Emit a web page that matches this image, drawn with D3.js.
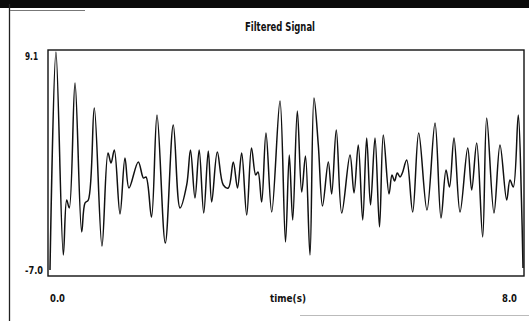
<!DOCTYPE html>
<html><head><meta charset="utf-8">
<script src="https://cdn.jsdelivr.net/npm/d3@7"></script>
<style>
html,body{margin:0;padding:0;background:#fff;overflow:hidden}
text{font-family:"Liberation Sans Narrow","DejaVu Sans Condensed","Liberation Sans",sans-serif;font-weight:bold;fill:#111}
</style></head>
<body><svg id="c" width="529" height="321"></svg>
<script>
const title = "Filtered Signal";
const xLabel = "time(s)";
const xTickLabels = ["0.0", "8.0"];
const xTickValues = [0, 8];
const yTickLabels = ["9.1", "-7.0"];
const yTickValues = [9.1, -7.0];
const times = [0,0.101,0.225,0.282,0.326,0.423,0.536,0.592,0.648,0.749,0.879,0.981,1.032,1.088,1.184,1.268,1.336,1.493,1.581,1.624,1.717,1.810,1.950,2.085,2.199,2.312,2.376,2.452,2.523,2.600,2.677,2.735,2.830,2.931,3.016,3.100,3.171,3.242,3.327,3.408,3.479,3.518,3.580,3.653,3.750,3.890,3.983,4.047,4.105,4.183,4.257,4.321,4.397,4.465,4.538,4.609,4.707,4.764,4.842,4.934,5.074,5.142,5.214,5.289,5.356,5.421,5.497,5.573,5.637,5.734,5.784,5.827,5.874,5.920,5.959,6.033,6.134,6.236,6.376,6.512,6.613,6.698,6.757,6.833,6.935,7.065,7.132,7.217,7.318,7.386,7.509,7.611,7.724,7.780,7.836,7.920,7.974,8.0];
const signal = [-7.0,9.1,-5.89,-1.83,-2.42,6.81,-4.19,-2.05,-1.83,4.96,-5.23,1.64,0.90,1.86,-2.86,1.27,-0.94,0.98,-0.21,-0.13,-3.09,4.45,-5.01,3.71,-2.42,-0.72,1.86,-1.68,1.86,-2.79,1.79,-1.98,1.71,-0.72,-0.94,0.98,-0.94,1.64,-2.94,2.01,0.02,0.24,-1.98,3.12,-2.72,5.48,-4.93,1.49,-3.31,4.74,-1.24,1.42,-5.89,5.70,2.23,-2.27,0.98,-1.39,3.34,-2.79,1.49,-1.31,2.23,-3.31,2.75,-2.20,2.75,-3.82,2.97,-1.39,0.02,-0.43,0.16,-0.13,0.16,1.12,-2.72,3.12,-2.57,3.86,-3.16,0.39,-0.87,2.75,-2.72,2.01,-1.09,2.38,-4.56,4.23,-2.79,2.23,-1.83,-0.35,-0.87,4.45,-1.83,-6.85];

const svg = d3.select("#c");
const x = d3.scaleLinear().domain([0, 8]).range([50, 523]);
const y = d3.scaleLinear().domain([-7.0, 9.1]).range([270, 52]);

// window chrome remnants
svg.append("rect").attr("x",0).attr("y",0).attr("width",529).attr("height",8).attr("fill","#0a0a0a");
svg.append("line").attr("x1",9.5).attr("x2",9.5).attr("y1",4).attr("y2",321).attr("stroke","#222").attr("stroke-width",1.3);
svg.append("line").attr("x1",10).attr("x2",85).attr("y1",10.5).attr("y2",10.5).attr("stroke","#777").attr("stroke-width",1);
svg.append("line").attr("x1",300).attr("x2",529).attr("y1",315.5).attr("y2",315.5).attr("stroke","#bbb").attr("stroke-width",1);

function fit(sel, w){ sel.attr("textLength", w).attr("lengthAdjust","spacingAndGlyphs"); return sel; }

// title
fit(svg.append("text").attr("x",245).attr("y",31).attr("font-size",12.5).text(title), 70);

// frame
svg.append("rect").attr("x",48).attr("y",50).attr("width",476).attr("height",226)
  .attr("fill","none").attr("stroke","#111").attr("stroke-width",1.4);

// y tick labels
svg.selectAll(".yt").data(yTickValues).enter().append("text")
  .attr("x",25).attr("y",d=>y(d)+4 + (d>0?4:0)).attr("font-size",11).attr("text-anchor","start")
  .attr("textLength",(d,i)=> i===0 ? 13 : 18).attr("lengthAdjust","spacingAndGlyphs")
  .text((d,i)=>yTickLabels[i]);

// x tick labels
svg.selectAll(".xt").data(xTickValues).enter().append("text")
  .attr("x",d=> d===0 ? x(d) : x(d)-21).attr("y",302).attr("font-size",11)
  .attr("textLength",15).attr("lengthAdjust","spacingAndGlyphs")
  .text((d,i)=>xTickLabels[i]);

fit(svg.append("text").attr("x",270).attr("y",302).attr("font-size",11).text(xLabel), 36);

// signal
const line = d3.line().x(d=>x(d[0])).y(d=>y(d[1])).curve(d3.curveCatmullRom.alpha(0.5));
svg.append("path").datum(times.map((t,i)=>[t, signal[i]]))
  .attr("d", line).attr("fill","none").attr("stroke","#111").attr("stroke-width",1.5).attr("stroke-linejoin","round");
</script>
</body></html>
